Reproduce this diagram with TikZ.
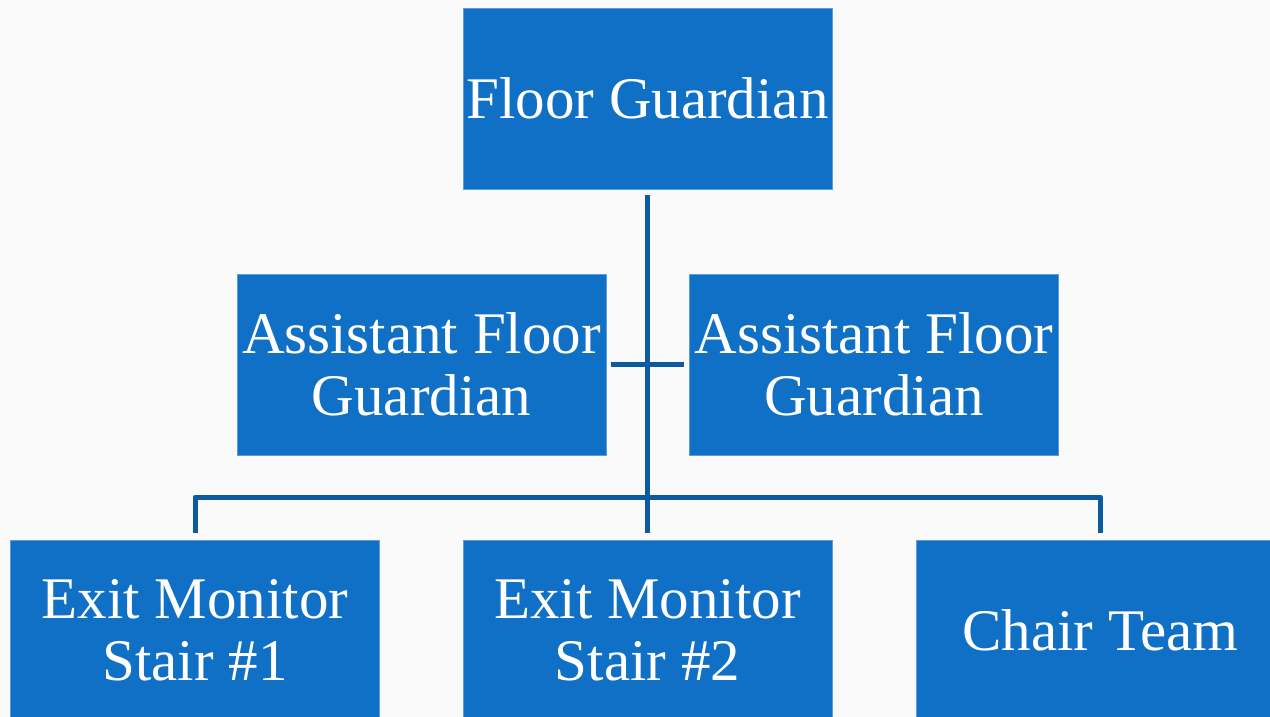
\documentclass[tikz,border=0pt]{standalone}
\usepackage{fontspec}
\setmainfont{Liberation Serif}
\usetikzlibrary{calc}
\definecolor{boxblue}{HTML}{1070C6}
\definecolor{boxedge}{HTML}{5C9CDC}
\definecolor{linkblue}{HTML}{0C5AA0}
\definecolor{bgcol}{HTML}{FAFAFA}
\tikzset{
  orgbox/.style={rectangle, fill=boxblue, draw=boxedge, line width=0.8pt,
    minimum width=369pt, minimum height=181pt, inner sep=0pt,
    text=white, align=center,
    font=\fontsize{59}{62}\selectfont},
  link/.style={draw=linkblue, line width=5pt, line join=round}
}
\begin{document}
\begin{tikzpicture}[x=1pt,y=1pt]
\fill[bgcol] (0,0) rectangle (1270,717);
\useasboundingbox (0,0) rectangle (1270,717);
\node[orgbox] (top) at (647.5,618.5) {Floor Guardian};
\node[orgbox] (al) at (421.5,352.5) {Assistant Floor\\Guardian};
\node[orgbox] (ar) at (874,352.5) {Assistant Floor\\Guardian};
\node[orgbox] (b1) at (195,86.5) {Exit Monitor\\Stair \#1};
\node[orgbox] (b2) at (647.5,86.5) {Exit Monitor\\Stair \#2};
\node[orgbox] (b3) at (1100.5,86.5) {Chair Team};
\coordinate (tstart) at ($(top.south)+(0,-6)$);
\coordinate (b2end) at ($(b2.north)+(0,7)$);
\coordinate (alend) at ($(al.east)+(5,0)$);
\coordinate (arend) at ($(ar.west)+(-5,0)$);
\coordinate (b1end) at ($(b1.north)+(0,7)$);
\coordinate (b3end) at ($(b3.north)+(0,7)$);
\coordinate (b1bus) at ($(b1.north)+(0,42.5)$);
\coordinate (b3bus) at ($(b3.north)+(0,42.5)$);
\draw[link] (tstart) -- (b2end);
\draw[link] (alend) -- (arend);
\draw[link] (b1end) -- (b1bus) -- (b3bus) -- (b3end);
\end{tikzpicture}
\end{document}
